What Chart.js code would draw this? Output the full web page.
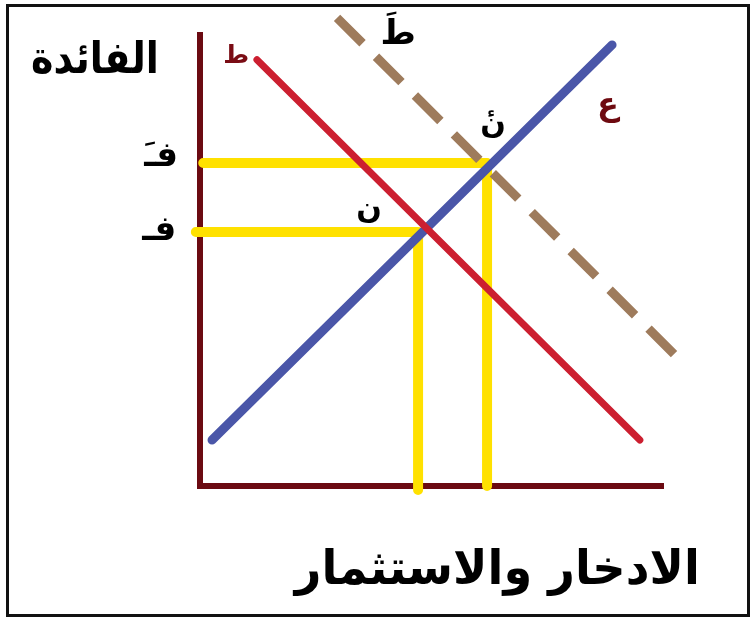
<!DOCTYPE html>
<html lang="ar">
<head>
<meta charset="utf-8">
<script src="https://cdn.jsdelivr.net/npm/chart.js@4.4.0/dist/chart.umd.min.js"></script>
<style>
  html, body { margin: 0; padding: 0; background: #fff; }
  #marco { position: absolute; left: 6px; top: 4px; width: 738px; height: 607px; border: 3px solid #111; }
  #lienzo { position: absolute; left: 0; top: 0; }
</style>
</head>
<body>
<div id="marco"></div>
<canvas id="lienzo" width="755" height="619"></canvas>
<script>
// منحنى الطلب على الاستثمار (ط)
const inversionX = [1.23, 9.50];
const inversionY = [9.45, 1.02];
// منحنى الادخار (ع)
const ahorroX = [0.26, 8.90];
const ahorroY = [1.02, 9.78];
// منحنى الطلب بعد الانتقال (طَ)
const nuevaX = [2.96, 10.37];
const nuevaY = [10.38, 2.79];
// نقطتا التوازن ن و نَ
const equilibrioX = [4.71, 6.20];
const equilibrioY = [5.63, 7.16];
// بداية الخط الأفقي ونهاية الخط الرأسي لكل نقطة
const guiaInicio = [-0.09, 0.07];
const guiaFin = [-0.09, 0];

// textos
const tituloY = 'الفائدة';
const tituloX = 'الادخار والاستثمار';
const etiquetas = ['ط', 'طَ', 'ع', 'ن', 'نٔ', 'فـ', 'فـَ'];

function puntos(xs, ys) {
  return xs.map((x, i) => ({ x: x, y: ys[i] }));
}

// خطوط صفراء من محور الفائدة إلى نقطة التوازن ثم إلى المحور الأفقي
function guia(i) {
  return [
    { x: guiaInicio[i], y: equilibrioY[i] },
    { x: equilibrioX[i], y: equilibrioY[i] },
    { x: equilibrioX[i], y: guiaFin[i] }
  ];
}

const linea = { showLine: true, pointRadius: 0, pointHoverRadius: 0, clip: false, borderCapStyle: 'round', borderJoinStyle: 'round', tension: 0 };

// etiquetas: texto, posicion en datos, color, tamaño
const textos = [
  { t: etiquetas[0], x: 0.78, y: 9.52, c: '#7a0c14', s: 25 },
  { t: etiquetas[1], x: 4.28, y: 10.0, c: '#000', s: 34 },
  { t: etiquetas[2], x: 8.81, y: 8.42, c: '#6e0a10', s: 32 },
  { t: etiquetas[3], x: 3.65, y: 6.12, c: '#000', s: 30 },
  { t: etiquetas[4], x: 6.33, y: 8.00, c: '#000', s: 30 },
  { t: etiquetas[5], x: -0.88, y: 5.66, c: '#000', s: 34 },
  { t: etiquetas[6], x: -0.84, y: 7.30, c: '#000', s: 34 }
];

const pluginTextos = {
  id: 'textos',
  afterDatasetsDraw(chart) {
    const ctx = chart.ctx;
    const sx = chart.scales.x, sy = chart.scales.y;
    ctx.save();
    ctx.textAlign = 'center';
    ctx.textBaseline = 'middle';
    textos.forEach(e => {
      ctx.font = 'bold ' + e.s + 'px "DejaVu Sans"';
      ctx.fillStyle = e.c;
      ctx.fillText(e.t, sx.getPixelForValue(e.x), sy.getPixelForValue(e.y));
    });
    // عنوان المحور الرأسي
    dibujarAjustado(ctx, tituloY, sx.getPixelForValue(-2.27), sy.getPixelForValue(9.40), 128, 44);
    // عنوان المحور الأفقي
    dibujarAjustado(ctx, tituloX, sx.getPixelForValue(6.42), sy.getPixelForValue(-1.90), 405, 48);
    ctx.restore();
  }
};

function dibujarAjustado(ctx, txt, cx, cy, ancho, tam) {
  ctx.save();
  ctx.font = 'bold ' + tam + 'px "DejaVu Sans"';
  ctx.fillStyle = '#000';
  const w = ctx.measureText(txt).width;
  ctx.translate(cx, cy);
  ctx.scale(ancho / w, 1);
  ctx.fillText(txt, 0, 0);
  ctx.restore();
}

const ctx = document.getElementById('lienzo').getContext('2d');

new Chart(ctx, {
  type: 'scatter',
  data: {
    datasets: [
      Object.assign({}, linea, { label: 'ط', data: puntos(inversionX, inversionY), borderColor: '#cc1f30', borderWidth: 7 }),
      Object.assign({}, linea, { label: 'ع', data: puntos(ahorroX, ahorroY), borderColor: '#4a56a8', borderWidth: 9 }),
      Object.assign({}, linea, { label: 'طَ', data: puntos(nuevaX, nuevaY), borderColor: '#9e7b5c', borderWidth: 9, borderCapStyle: 'butt', borderDash: [36, 19] }),
      Object.assign({}, linea, { label: 'نَ', data: guia(1), borderColor: '#ffe100', borderWidth: 10 }),
      Object.assign({}, linea, { label: 'ن', data: guia(0), borderColor: '#ffe100', borderWidth: 10 })
    ]
  },
  options: {
    responsive: false,
    animation: false,
    events: [],
    layout: { padding: { left: 200, right: 92, top: 35, bottom: 133 } },
    plugins: {
      legend: { display: false },
      tooltip: { enabled: false }
    },
    scales: {
      x: {
        type: 'linear', min: 0, max: 10,
        ticks: { display: false },
        grid: { display: false, drawTicks: false },
        border: { display: true, color: '#6b0a12', width: 6 }
      },
      y: {
        type: 'linear', min: 0, max: 10,
        ticks: { display: false },
        grid: { display: false, drawTicks: false },
        border: { display: true, color: '#6b0a12', width: 6 }
      }
    }
  },
  plugins: [pluginTextos]
});
</script>
</body>
</html>
